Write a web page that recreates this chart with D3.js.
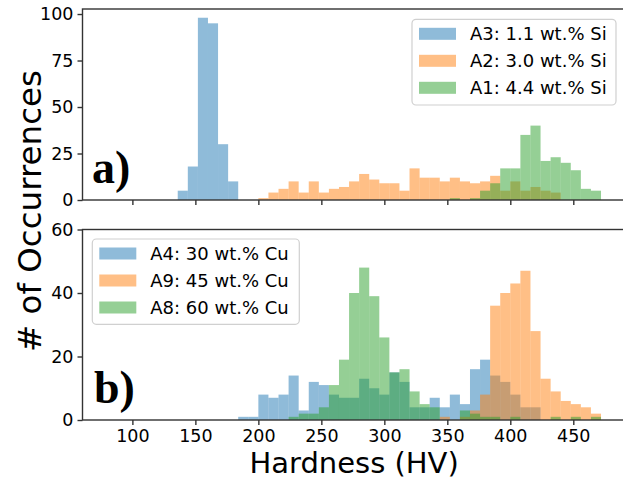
<!DOCTYPE html>
<html lang="en">
<head>
  <meta charset="UTF-8">
  <title>Hardness histograms</title>
  <script src="https://d3js.org/d3.v7.min.js"></script>
  <style>
    body { margin: 0; background: #ffffff; }
    svg { display: block; font-family: 'DejaVu Sans', sans-serif; }
  </style>
</head>
<body>
  <svg id="chart" width="623" height="479"></svg>

  <script>
    // histogram bins are 8 HV wide
    const binWidth = 8;

    // panel a) - Si alloys, counts per bin and first bin edge
    const a3Start = 136;
    const a3Counts = [5, 18, 98, 95, 30, 10];
    const a2Start = 200;
    const a2Counts = [1, 4, 6, 10, 4, 10, 4, 6, 7, 10, 14, 11, 9, 9, 5, 17, 12, 12, 10, 12,
                      10, 9, 10, 13, 5, 10, 5, 7, 5, 4];
    const a1Start = 352;
    const a1Counts = [1, 0, 1, 5, 9, 17, 17, 35, 40, 21, 23, 20, 16, 6, 5];

    // panel b) - Cu alloys
    const a4Start = 184;
    const a4Counts = [1, 1, 8, 7, 8, 14, 3, 12, 11, 8, 7, 7, 13, 10, 8, 15, 12, 4, 4, 7,
                      4, 8, 5, 16, 19, 14, 12, 8, 4, 4];
    const a9Start = 344;
    const a9Counts = [1, 0, 1, 3, 8, 36, 40, 43, 47, 28, 13, 9, 6, 5, 4, 2];
    const a8Start = 224;
    const a8Counts = [1, 2, 2, 4, 11, 19, 40, 48, 39, 26, 15, 16, 9, 5, 4, 0, 0, 3, 2, 1,
                      1, 0, 1, 0, 0, 0, 1, 0, 1, 0, 1];

    const topLegend = ["A3: 1.1 wt.% Si", "A2: 3.0 wt.% Si", "A1: 4.4 wt.% Si"];
    const bottomLegend = ["A4: 30 wt.% Cu", "A9: 45 wt.% Cu", "A8: 60 wt.% Cu"];

    const xTicks = [100, 150, 200, 250, 300, 350, 400, 450];
    const topYTicks = [0, 25, 50, 75, 100];
    const bottomYTicks = [0, 20, 40, 60];

    const colors = ["rgba(31,119,180,0.5)", "rgba(255,127,14,0.5)", "rgba(44,160,44,0.5)"];
    const spineColor = "#333";

    const svg = d3.select("#chart");
    svg.append("rect").attr("width", 623).attr("height", 479).attr("fill", "#fff");

    const left = 82.5, right = 625.7;
    const x = d3.scaleLinear().domain([60.4, 491.6]).range([left, right]);

    const panels = [
      { top: 9, bottom: 200, ymax: 102.7, yTicks: topYTicks, showX: false,
        series: [[a3Start, a3Counts], [a2Start, a2Counts], [a1Start, a1Counts]],
        legend: topLegend, box: { x: 412, y: 19.3, w: 204, h: 85.7 },
        label: "a)", labelX: 92, labelY: 183 },
      { top: 229.5, bottom: 420, ymax: 60, yTicks: bottomYTicks, showX: true,
        series: [[a4Start, a4Counts], [a9Start, a9Counts], [a8Start, a8Counts]],
        legend: bottomLegend, box: { x: 92.3, y: 239, w: 207, h: 85.3 },
        label: "b)", labelX: 94, labelY: 403 }
    ];

    panels.forEach(p => {
      const y = d3.scaleLinear().domain([0, p.ymax]).range([p.bottom, p.top]);
      const g = svg.append("g");

      // bars
      p.series.forEach(([start, counts], i) => {
        const bins = counts.map((c, k) => ({ x0: start + k * binWidth, c }));
        g.append("g").selectAll("rect")
          .data(bins.filter(d => d.c > 0))
          .enter()
          .append("rect")
          .attr("x", d => x(d.x0))
          .attr("width", d => x(d.x0 + binWidth) - x(d.x0))
          .attr("y", d => y(d.c))
          .attr("height", d => y(0) - y(d.c))
          .attr("fill", colors[i]);
      });

      // spines
      g.append("rect")
        .attr("x", left).attr("y", p.top)
        .attr("width", right - left).attr("height", p.bottom - p.top)
        .attr("fill", "none").attr("stroke", spineColor).attr("stroke-width", 1.4);

      // y axis
      const yAxis = d3.axisLeft(y).tickValues(p.yTicks).tickSize(5).tickPadding(4);
      const ya = g.append("g").attr("transform", `translate(${left},0)`).call(yAxis);
      ya.select(".domain").remove();
      ya.selectAll("line").attr("stroke", spineColor).attr("stroke-width", 1.4);
      ya.selectAll("text").attr("font-family", "DejaVu Sans").attr("font-size", 17.5).attr("fill", "#000");

      // x axis
      const xAxis = d3.axisBottom(x).tickValues(xTicks).tickSize(5).tickPadding(5)
        .tickFormat(p.showX ? d3.format("d") : "");
      const xa = g.append("g").attr("transform", `translate(0,${p.bottom})`).call(xAxis);
      xa.select(".domain").remove();
      xa.selectAll("line").attr("stroke", spineColor).attr("stroke-width", 1.4);
      xa.selectAll("text").attr("font-family", "DejaVu Sans").attr("font-size", 17.5).attr("fill", "#000");

      // panel letter
      g.append("text")
        .attr("x", p.labelX).attr("y", p.labelY)
        .attr("font-family", "Liberation Serif").attr("font-weight", "bold")
        .attr("font-size", 46)
        .text(p.label);

      // legend
      const b = p.box;
      const lg = g.append("g");
      lg.append("rect")
        .attr("x", b.x).attr("y", b.y).attr("width", b.w).attr("height", b.h)
        .attr("rx", 4).attr("fill", "rgba(255,255,255,0.8)")
        .attr("stroke", "#d0d0d0").attr("stroke-width", 1.2);
      p.legend.forEach((name, i) => {
        const cy = b.y + 14.5 + i * 27;
        lg.append("rect")
          .attr("x", b.x + 7).attr("y", cy - 6)
          .attr("width", 37).attr("height", 12)
          .attr("fill", colors[i]);
        lg.append("text")
          .attr("x", b.x + 58).attr("y", cy).attr("dy", "0.35em")
          .attr("font-size", 18).attr("fill", "#000")
          .text(name);
      });
    });

    // axis titles
    svg.append("text")
      .attr("x", (left + right) / 2).attr("y", 473)
      .attr("text-anchor", "middle")
      .attr("font-size", 29)
      .text("Hardness (HV)");

    svg.append("text")
      .attr("transform", "translate(41,211) rotate(-90)")
      .attr("text-anchor", "middle")
      .attr("font-size", 32.5)
      .text("# of Occurrences");
  </script>
</body>
</html>
